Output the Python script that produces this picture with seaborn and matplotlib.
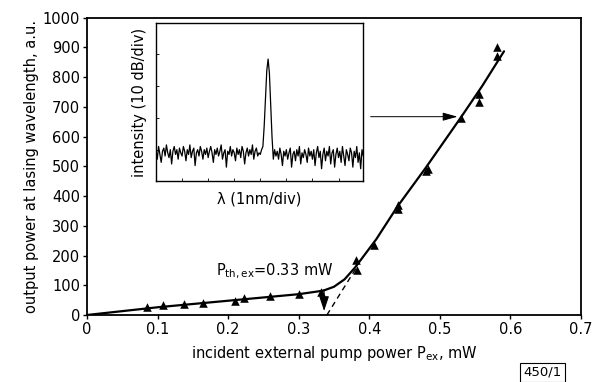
import numpy as np
import pandas as pd
import matplotlib
matplotlib.use('Agg')
import matplotlib.pyplot as plt
import seaborn as sns

pump_mw = [0.085, 0.107, 0.137, 0.164, 0.210, 0.223, 0.260, 0.300, 0.331,
           0.381, 0.382, 0.407, 0.441, 0.441, 0.481, 0.483, 0.530, 0.556,
           0.556, 0.581, 0.581]
out_au = [28, 34, 37, 41, 48, 56, 64, 70, 78,
          185, 152, 236, 370, 356, 483, 490, 662, 742,
          718, 900, 872]

# hand-drawn fit curve knots
fit_x = [0, 0.1, 0.2, 0.3, 0.335, 0.35, 0.365, 0.38, 0.41, 0.44, 0.48, 0.53, 0.56, 0.591]
fit_y = [0, 26, 48, 70, 82, 95, 120, 160, 255, 365, 495, 665, 770, 887]

# threshold extrapolation (dashed)
dash_x = [0.340, 0.382]
dash_y = [0, 160]

# inset spectrum, arbitrary units (10 dB/div)
spectrum = [20, 14, 22, 17, 12, 19, 21, 16, 23, 18, 15, 20, 11, 19, 22, 17, 20, 14, 21, 18,
            16, 22, 19, 13, 20, 17, 23, 15, 19, 21, 10, 18, 20, 16, 22, 19, 14, 20, 17, 21,
            15, 19, 22, 18, 12, 20, 17, 21, 16, 19, 23, 14, 18, 20, 9, 19, 17, 22, 16, 20,
            18, 13, 21, 17, 20, 15, 22, 19, 11, 18, 21, 16, 20, 17, 23, 14, 19, 21, 16, 18,
            17, 20, 22, 35, 52, 70, 77, 68, 48, 28, 14, 20, 16, 19, 14, 21, 17, 10, 19, 16,
            20, 14, 18, 21, 9, 17, 19, 13, 20, 16, 22, 11, 18, 15, 20, 17, 12, 21, 16, 19,
            14, 20, 10, 18, 22, 15, 19, 8, 17, 21, 13, 19, 16, 22, 11, 18, 20, 9, 17, 21,
            15, 19, 12, 22, 16, 10, 20, 17, 13, 21, 18, 9, 19, 15, 22, 12, 18, 8, 20, 16]

sns.set_style('ticks')
plt.rcParams['font.family'] = ['DejaVu Sans']
plt.rcParams['mathtext.fontset'] = 'dejavusans'
for k in ['text.color', 'axes.labelcolor', 'xtick.color', 'ytick.color', 'axes.edgecolor']:
    plt.rcParams[k] = 'black'

FS = 10.5

fig = plt.figure(figsize=(5.94, 3.82), dpi=100)
ax = fig.add_axes([0.1465, 0.1754, 0.8315, 0.7783])

pts = pd.DataFrame({'pump': pump_mw, 'out': out_au})
fit = pd.DataFrame({'pump': fit_x, 'out': fit_y})

sns.lineplot(data=fit, x='pump', y='out', sort=False, color='k', lw=1.6, ax=ax)
ax.plot(dash_x, dash_y, color='k', lw=1.0, ls=(0, (4, 3)))
sns.scatterplot(data=pts, x='pump', y='out', marker='^', color='k', s=38,
                edgecolor='k', linewidth=0, ax=ax, zorder=3)

ax.set_xlim(0, 0.7)
ax.set_ylim(0, 1000)
ax.set_xticks(np.arange(0, 0.71, 0.1))
ax.set_xticklabels(['0', '0.1', '0.2', '0.3', '0.4', '0.5', '0.6', '0.7'])
ax.set_yticks(np.arange(0, 1001, 100))
ax.tick_params(direction='out', length=3, width=1, labelsize=FS, pad=2)
for s in ax.spines.values():
    s.set_linewidth(1.3)
    s.set_visible(True)
ax.set_xlabel(r'incident external pump power P$_{\mathrm{ex}}$, mW', fontsize=FS, labelpad=5)
ax.set_ylabel('output power at lasing wavelength, a.u.', fontsize=FS, labelpad=3)

# threshold label and arrow
ax.text(0.183, 135, r'P$_{\mathrm{th,ex}}$=0.33 mW', fontsize=FS, va='baseline', ha='left')
ax.annotate('', xy=(0.336, 4), xytext=(0.336, 95),
            arrowprops=dict(arrowstyle='-|>,head_length=0.9,head_width=0.3',
                            color='k', lw=0.8))
# arrow from inset to the spectrum's operating point
ax.annotate('', xy=(0.529, 667), xytext=(0.398, 667),
            arrowprops=dict(arrowstyle='-|>,head_length=0.9,head_width=0.25',
                            color='k', lw=0.7))

# inset with lasing spectrum
ins = fig.add_axes([0.2626, 0.525, 0.349, 0.416])
spec = pd.DataFrame({'idx': np.arange(len(spectrum)), 'val': spectrum})
sns.lineplot(data=spec, x='idx', y='val', color='k', lw=0.9, ax=ins)
ins.set_xlim(0, len(spectrum) - 1)
ins.set_ylim(0, 100)
ins.set_xticks(np.arange(0, len(spectrum), 20))
ins.set_yticks(np.arange(0, 101, 20))
ins.set_xticklabels([])
ins.set_yticklabels([])
ins.tick_params(direction='in', length=2, width=0.6)
for s in ins.spines.values():
    s.set_linewidth(1.0)
    s.set_visible(True)
ins.set_xlabel('λ (1nm/div)', fontsize=FS, labelpad=4)
ins.set_ylabel('intensity (10 dB/div)', fontsize=FS, labelpad=3)

fig.text(0.913, 0.025, '450/1', fontsize=9.5, ha='center', va='center',
         bbox=dict(boxstyle='square,pad=0.25', fc='white', ec='k', lw=0.8))

fig.savefig('out.png', dpi=100)
